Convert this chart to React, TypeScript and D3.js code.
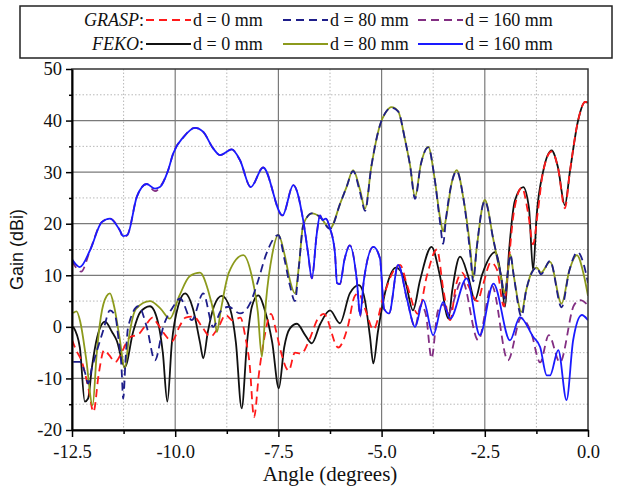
import React, { useEffect, useRef } from 'react';
import * as d3 from 'd3';

// angle (degrees), gain (dBi)
const xTicks = [-12.5, -10.0, -7.5, -5.0, -2.5, 0.0];
const xMinorTicks = [-11.25, -8.75, -6.25, -3.75, -1.25];
const yTicks = [-20, -10, 0, 10, 20, 30, 40, 50];
const yMinorTicks = [-15, -5, 5, 15, 25, 35, 45];

const fekoD0 = [
  [-12.47, 0.0], [-12.31, -4.0], [-12.19, -14.5], [-12.11, -13.9], [-12.02, -8.0],
  [-11.89, -2.0], [-11.70, 1.0], [-11.53, -1.0], [-11.42, -2.6], [-11.22, -7.8],
  [-11.02, -1.0], [-10.85, 2.8], [-10.61, 4.0], [-10.42, 1.0], [-10.30, -5.0],
  [-10.19, -14.5], [-10.08, -3.0], [-9.93, 4.0], [-9.76, 6.5], [-9.57, 3.5],
  [-9.40, -3.0], [-9.32, -6.1], [-9.21, -1.0], [-9.06, 4.0], [-8.87, 6.0],
  [-8.67, 3.5], [-8.53, -3.0], [-8.39, -15.8], [-8.26, -3.0], [-8.14, 4.0],
  [-7.99, 6.1], [-7.82, 3.0], [-7.65, -3.0], [-7.49, -11.9], [-7.36, -4.0],
  [-7.22, -0.3], [-7.05, 0.6], [-6.86, -1.5], [-6.69, -3.2], [-6.49, 0.5],
  [-6.25, 3.2], [-6.01, 0.7], [-5.77, 6.5], [-5.55, 8.1], [-5.40, 5.0],
  [-5.28, -2.0], [-5.20, -7.1], [-5.09, -1.0], [-4.89, 7.5], [-4.65, 11.5],
  [-4.43, 9.0], [-4.24, 3.2], [-4.07, 9.0], [-3.79, 15.5], [-3.59, 10.0],
  [-3.38, 1.6], [-3.29, 7.0], [-3.10, 13.6], [-2.91, 10.0], [-2.74, 5.2],
  [-2.57, 10.0], [-2.25, 14.5], [-2.11, 10.0], [-2.01, 3.9], [-1.91, 15.0],
  [-1.77, 24.5], [-1.57, 27.1], [-1.43, 23.0], [-1.33, 11.0], [-1.24, 22.0],
  [-1.09, 30.0], [-0.88, 34.2], [-0.73, 31.0], [-0.56, 23.6], [-0.44, 30.0],
  [-0.24, 40.0], [-0.07, 43.6], [0.0, 43.5],
];

const graspD0 = [
  [-12.5, -2.5], [-12.4, -4.5], [-12.25, -7.0], [-12.1, -12.0], [-11.98, -16.5],
  [-11.85, -9.0], [-11.72, -4.5], [-11.6, -5.5], [-11.45, -6.8], [-11.3, -5.0],
  [-11.1, -2.0], [-10.9, -1.5], [-10.7, 0.5], [-10.55, 1.8], [-10.42, 0.5],
  [-10.25, -1.5], [-10.08, -2.8], [-9.9, 0.0], [-9.75, 1.8], [-9.55, 2.0],
  [-9.35, 0.0], [-9.15, -1.9], [-8.95, 0.0], [-8.78, 2.3], [-8.6, 1.2],
  [-8.42, 1.8], [-8.3, -2.0], [-8.2, -7.0], [-8.09, -17.5], [-7.97, -9.0],
  [-7.86, -3.0], [-7.68, 2.5], [-7.55, -1.0], [-7.45, -4.5], [-7.25, -8.5],
  [-7.1, -5.0], [-6.95, -5.2], [-6.75, -2.5], [-6.55, 1.5], [-6.4, 2.5],
  [-6.05, -4.0], [-5.82, 0.0], [-5.65, 6.0], [-5.56, 6.5], [-5.4, 3.5],
  [-5.2, -0.5], [-4.95, 6.0], [-4.7, 11.0], [-4.55, 12.0], [-4.38, 8.0],
  [-4.12, 2.5], [-3.9, 10.0], [-3.66, 15.0], [-3.5, 7.0], [-3.34, 1.3],
  [-3.2, 8.0], [-3.05, 10.5], [-2.9, 8.0], [-2.68, 5.0], [-2.55, 8.0],
  [-2.35, 12.5], [-2.2, 11.0], [-2.04, 4.0], [-1.95, 10.0], [-1.8, 22.0],
  [-1.6, 27.0], [-1.45, 22.0], [-1.33, 16.0], [-1.22, 22.0], [-1.09, 30.0],
  [-0.88, 34.0], [-0.73, 31.0], [-0.56, 23.0], [-0.44, 30.0], [-0.24, 40.0],
  [-0.07, 43.6], [0.0, 43.6],
];

const fekoD80 = [
  [-12.47, 2.7], [-12.39, 3.0], [-12.3, 1.0], [-12.16, -6.0], [-12.0, -15.2],
  [-11.9, -5.0], [-11.8, 2.0], [-11.66, 6.0], [-11.58, 6.5], [-11.48, 4.0],
  [-11.35, -2.0], [-11.22, -8.1], [-11.12, -2.0], [-10.95, 3.5], [-10.61, 5.0],
  [-10.35, 3.5], [-10.13, 1.6], [-9.9, 6.0], [-9.65, 9.8], [-9.4, 10.5],
  [-9.2, 7.0], [-9.05, 2.0], [-8.99, -1.0], [-8.9, 3.0], [-8.7, 10.5],
  [-8.35, 13.9], [-8.15, 10.0], [-8.0, 3.0], [-7.9, -5.8], [-7.8, 5.0],
  [-7.65, 14.0], [-7.5, 17.9], [-7.35, 14.0], [-7.22, 9.0], [-7.1, 6.5],
  [-7.0, 12.0], [-6.9, 19.8], [-6.69, 22.0], [-6.49, 21.3], [-6.25, 19.1],
  [-6.0, 24.0], [-5.85, 27.1], [-5.69, 30.4], [-5.52, 26.5], [-5.4, 22.9],
  [-5.25, 31.0], [-5.04, 39.1], [-4.9, 41.6], [-4.76, 42.6], [-4.6, 41.8],
  [-4.43, 36.2], [-4.31, 31.3], [-4.19, 25.2], [-4.05, 31.5], [-3.87, 34.9],
  [-3.72, 29.0], [-3.58, 21.0], [-3.51, 18.5], [-3.44, 21.0], [-3.3, 28.0],
  [-3.18, 30.4], [-3.02, 25.0], [-2.85, 15.0], [-2.78, 9.5], [-2.7, 15.0],
  [-2.5, 24.6], [-2.29, 16.8], [-2.09, 9.0], [-2.02, 6.5], [-1.95, 10.0],
  [-1.88, 14.0], [-1.8, 10.0], [-1.61, 2.9], [-1.5, 7.0], [-1.36, 10.7],
  [-1.24, 11.5], [-1.14, 10.5], [-0.92, 12.6], [-0.64, 4.5], [-0.45, 11.0],
  [-0.27, 13.9], [-0.1, 10.0], [0.0, 6.0],
];

const graspD80 = [
  [-12.47, -6.8], [-12.31, -6.8], [-12.18, -9.0], [-12.11, -11.0], [-12.02, -8.0],
  [-11.94, -5.8], [-11.74, -0.6], [-11.58, 3.2], [-11.45, 2.0], [-11.38, -1.9],
  [-11.3, -8.0], [-11.26, -13.9], [-11.2, -6.0], [-11.14, 0.0], [-10.89, 4.0],
  [-10.69, 0.0], [-10.49, -6.5], [-10.29, 0.0], [-10.05, 3.9], [-9.88, 5.5],
  [-9.6, 1.3], [-9.32, 6.5], [-9.08, 0.0], [-8.9, 3.0], [-8.71, 3.9],
  [-8.43, 2.6], [-8.19, 4.5], [-7.99, 9.0], [-7.8, 14.0], [-7.5, 17.8],
  [-7.35, 13.0], [-7.22, 8.0], [-7.1, 5.0], [-7.0, 12.0], [-6.9, 19.6],
  [-6.69, 22.0], [-6.49, 21.3], [-6.25, 19.0], [-6.0, 24.0], [-5.85, 27.1],
  [-5.69, 30.2], [-5.52, 26.0], [-5.4, 22.5], [-5.25, 31.0], [-5.04, 39.1],
  [-4.9, 41.6], [-4.76, 42.5], [-4.6, 41.8], [-4.43, 36.2], [-4.31, 31.3],
  [-4.19, 24.8], [-4.05, 31.5], [-3.87, 34.8], [-3.72, 29.0], [-3.58, 20.0],
  [-3.51, 16.1], [-3.44, 21.0], [-3.3, 28.0], [-3.18, 30.2], [-3.02, 25.0],
  [-2.85, 14.0], [-2.78, 8.8], [-2.7, 15.0], [-2.5, 24.4], [-2.29, 16.8],
  [-2.09, 9.0], [-2.02, 5.5], [-1.95, 10.0], [-1.88, 14.0], [-1.8, 10.0],
  [-1.61, 2.0], [-1.5, 7.0], [-1.36, 10.5], [-1.24, 11.5], [-1.14, 10.2],
  [-0.92, 12.8], [-0.64, 3.8], [-0.45, 11.0], [-0.25, 14.5], [-0.1, 12.0],
  [0.0, 8.5],
];

const fekoD160 = [
  [-12.5, 13.1], [-12.31, 11.6], [-12.06, 14.9], [-11.78, 20.3], [-11.58, 21.0],
  [-11.34, 18.7], [-11.26, 17.6], [-11.16, 17.8], [-10.93, 25.2], [-10.69, 27.7],
  [-10.49, 26.8], [-10.37, 27.1], [-10.17, 30.4], [-10.05, 33.6], [-9.8, 36.8],
  [-9.52, 38.6], [-9.32, 37.8], [-9.08, 34.6], [-8.91, 33.3], [-8.63, 34.4],
  [-8.43, 32.3], [-8.17, 27.1], [-7.87, 30.9], [-7.4, 21.6], [-7.14, 27.5],
  [-6.9, 20.7], [-6.78, 14.2], [-6.69, 9.4], [-6.57, 18.1], [-6.49, 21.6],
  [-6.43, 20.7], [-6.35, 21.0], [-6.25, 19.1], [-6.13, 14.3], [-6.08, 8.5],
  [-6.01, 8.3], [-5.9, 13.0], [-5.77, 15.8], [-5.6, 9.0], [-5.52, 2.3],
  [-5.43, 9.0], [-5.2, 15.5], [-5.04, 13.3], [-4.94, 3.5], [-4.82, 2.6],
  [-4.6, 12.0], [-4.38, 5.2], [-4.19, 0.0], [-3.99, 5.2], [-3.75, -1.6],
  [-3.51, 4.8], [-3.34, 1.6], [-2.94, 9.4], [-2.62, -1.6], [-2.29, 8.4],
  [-1.89, -2.6], [-1.65, 1.9], [-1.33, -1.9], [-1.16, -3.9], [-1.0, -9.4],
  [-0.92, -9.4], [-0.72, -4.5], [-0.52, -14.2], [-0.36, -2.6], [-0.15, 2.3],
  [0.0, 1.3],
];

const graspD160 = [
  [-12.5, 12.8], [-12.28, 10.7], [-12.06, 14.9], [-11.78, 20.3], [-11.58, 21.0],
  [-11.34, 18.7], [-11.26, 17.4], [-11.16, 17.8], [-10.93, 25.2], [-10.69, 27.7],
  [-10.49, 26.3], [-10.37, 27.1], [-10.17, 30.4], [-10.05, 33.6], [-9.8, 36.8],
  [-9.52, 38.6], [-9.32, 37.8], [-9.08, 34.6], [-8.91, 33.3], [-8.63, 34.4],
  [-8.43, 32.3], [-8.17, 27.1], [-7.87, 30.9], [-7.4, 21.6], [-7.14, 27.5],
  [-6.9, 20.7], [-6.78, 14.2], [-6.69, 9.4], [-6.57, 18.1], [-6.49, 21.6],
  [-6.43, 20.7], [-6.35, 21.0], [-6.25, 19.1], [-6.13, 14.3], [-6.08, 8.5],
  [-6.01, 8.3], [-5.9, 13.0], [-5.77, 15.8], [-5.6, 9.0], [-5.52, 2.0],
  [-5.43, 9.0], [-5.2, 15.5], [-5.04, 13.3], [-4.94, 3.5], [-4.82, 2.6],
  [-4.6, 12.0], [-4.38, 5.2], [-4.19, 0.0], [-4.05, 4.2], [-3.93, 2.5],
  [-3.79, -6.1], [-3.64, 3.0], [-3.51, 4.3], [-3.4, 2.5], [-3.05, 9.0],
  [-2.66, -2.6], [-2.33, 8.0], [-1.94, -6.5], [-1.62, 1.7], [-1.38, -1.0],
  [-1.16, -6.9], [-0.95, -1.6], [-0.68, -6.9], [-0.34, 4.2], [-0.19, 5.2],
  [0.0, 4.2],
];

const legendNames = ['GRASP', 'FEKO'];
const legendDistances = ['d = 0 mm', 'd = 80 mm', 'd = 160 mm'];

const series = [
  { name: 'FEKO', dist: 0, data: fekoD0, color: '#111111', dash: null },
  { name: 'GRASP', dist: 0, data: graspD0, color: '#ff1a1a', dash: '8,5' },
  { name: 'FEKO', dist: 1, data: fekoD80, color: '#8c9a1c', dash: null },
  { name: 'GRASP', dist: 1, data: graspD80, color: '#1e1e8a', dash: '8,5' },
  { name: 'GRASP', dist: 2, data: graspD160, color: '#822e82', dash: '8,5' },
  { name: 'FEKO', dist: 2, data: fekoD160, color: '#1a1aff', dash: null },
];

const serif = "Liberation Serif, Times New Roman, serif";
const sans = "Liberation Sans, Arial, sans-serif";

const App = () => {
  const svgRef = useRef(null);

  useEffect(() => {
    if (!svgRef.current) return;
    const svg = d3.select(svgRef.current);
    svg.selectAll('*').remove();

    const left = 72, right = 588, top = 69, bottom = 430;
    const x = d3.scaleLinear().domain([-12.5, 0]).range([left, right]);
    const y = d3.scaleLinear().domain([-20, 50]).range([bottom, top]);

    svg.append('rect').attr('width', 620).attr('height', 488).attr('fill', '#fff');

    // grid: minor dotted, major solid
    const grid = svg.append('g');
    xMinorTicks.forEach(v => grid.append('line')
      .attr('x1', x(v)).attr('x2', x(v)).attr('y1', top).attr('y2', bottom)
      .attr('stroke', '#b8b8b8').attr('stroke-width', 1).attr('stroke-dasharray', '1.5,2'));
    yMinorTicks.forEach(v => grid.append('line')
      .attr('x1', left).attr('x2', right).attr('y1', y(v)).attr('y2', y(v))
      .attr('stroke', '#b8b8b8').attr('stroke-width', 1).attr('stroke-dasharray', '1.5,2'));
    xTicks.slice(1, -1).forEach(v => grid.append('line')
      .attr('x1', x(v)).attr('x2', x(v)).attr('y1', top).attr('y2', bottom)
      .attr('stroke', '#7a7a7a').attr('stroke-width', 1.2));
    yTicks.slice(1, -1).forEach(v => grid.append('line')
      .attr('x1', left).attr('x2', right).attr('y1', y(v)).attr('y2', y(v))
      .attr('stroke', '#7a7a7a').attr('stroke-width', 1.2));

    // curves
    svg.append('clipPath').attr('id', 'plot-clip')
      .append('rect').attr('x', left).attr('y', top - 2).attr('width', right - left).attr('height', bottom - top + 2);

    const line = d3.line()
      .x(d => x(d[0]))
      .y(d => y(d[1]))
      .curve(d3.curveMonotoneX);

    const curves = svg.append('g').attr('clip-path', 'url(#plot-clip)');
    series.forEach(s => {
      curves.append('path')
        .datum(s.data)
        .attr('fill', 'none')
        .attr('stroke', s.color)
        .attr('stroke-width', 1.8)
        .attr('stroke-dasharray', s.dash)
        .attr('stroke-linejoin', 'round')
        .attr('d', line);
    });

    // frame
    svg.append('rect')
      .attr('x', left).attr('y', top).attr('width', right - left).attr('height', bottom - top)
      .attr('fill', 'none').attr('stroke', '#333').attr('stroke-width', 1.5);

    // axes
    const xAxis = svg.append('g').attr('transform', `translate(0,${bottom})`)
      .call(d3.axisBottom(x).tickValues(xTicks).tickFormat(d => d.toFixed(1)).tickSize(7).tickSizeOuter(0).tickPadding(8));
    svg.append('g').attr('transform', `translate(0,${bottom})`)
      .call(d3.axisBottom(x).tickValues(xMinorTicks).tickFormat(() => '').tickSize(4).tickSizeOuter(0))
      .select('.domain').remove();
    const yAxis = svg.append('g').attr('transform', `translate(${left},0)`)
      .call(d3.axisLeft(y).tickValues(yTicks).tickFormat(d => String(d)).tickSize(6).tickSizeOuter(0).tickPadding(4));
    svg.append('g').attr('transform', `translate(${left},0)`)
      .call(d3.axisLeft(y).tickValues(yMinorTicks).tickFormat(() => '').tickSize(3).tickSizeOuter(0))
      .select('.domain').remove();

    [xAxis, yAxis].forEach(a => {
      a.attr('font-family', serif).attr('font-size', 18.5);
      a.select('.domain').attr('stroke', '#000').attr('stroke-width', 2);
      a.selectAll('text').attr('font-family', serif).attr('font-size', 18.5).attr('fill', '#111');
    });
    svg.selectAll('.tick line').attr('stroke', '#000').attr('stroke-width', 1.5);

    // axis titles
    svg.append('text')
      .attr('x', (left + right) / 2).attr('y', 481)
      .attr('text-anchor', 'middle')
      .attr('font-family', serif).attr('font-size', 21).attr('fill', '#111')
      .text('Angle (degrees)');
    svg.append('text')
      .attr('transform', `translate(23,${(top + bottom) / 2}) rotate(-90)`)
      .attr('text-anchor', 'middle')
      .attr('font-family', sans).attr('font-size', 18).attr('fill', '#111')
      .text('Gain (dBi)');

    // legend
    const legend = svg.append('g');
    legend.append('rect')
      .attr('x', 20).attr('y', 6).attr('width', 592).attr('height', 52)
      .attr('fill', '#fff').attr('stroke', '#222').attr('stroke-width', 1.5);

    const sampleX = [146, 283, 418];
    legendNames.forEach((name, r) => {
      const ry = 26 + r * 24;
      const label = legend.append('text')
        .attr('x', 144).attr('y', ry)
        .attr('text-anchor', 'end')
        .attr('font-family', serif).attr('font-size', 18).attr('fill', '#111');
      label.append('tspan').attr('font-style', 'italic').text(name);
      label.append('tspan').text(':');

      legendDistances.forEach((dist, i) => {
        const s = series.find(k => k.name === name && k.dist === i);
        legend.append('line')
          .attr('x1', sampleX[i]).attr('x2', sampleX[i] + 45)
          .attr('y1', ry - 6).attr('y2', ry - 6)
          .attr('stroke', s.color).attr('stroke-width', 1.8)
          .attr('stroke-dasharray', s.dash);
        legend.append('text')
          .attr('x', sampleX[i] + 47).attr('y', ry)
          .attr('font-family', serif).attr('font-size', 18).attr('fill', '#111')
          .text(dist);
      });
    });
  }, []);

  return (
    <div style={{ position: 'fixed', left: 0, top: 0 }}>
      <svg ref={svgRef} width={620} height={488}></svg>
    </div>
  );
};

export default App;
